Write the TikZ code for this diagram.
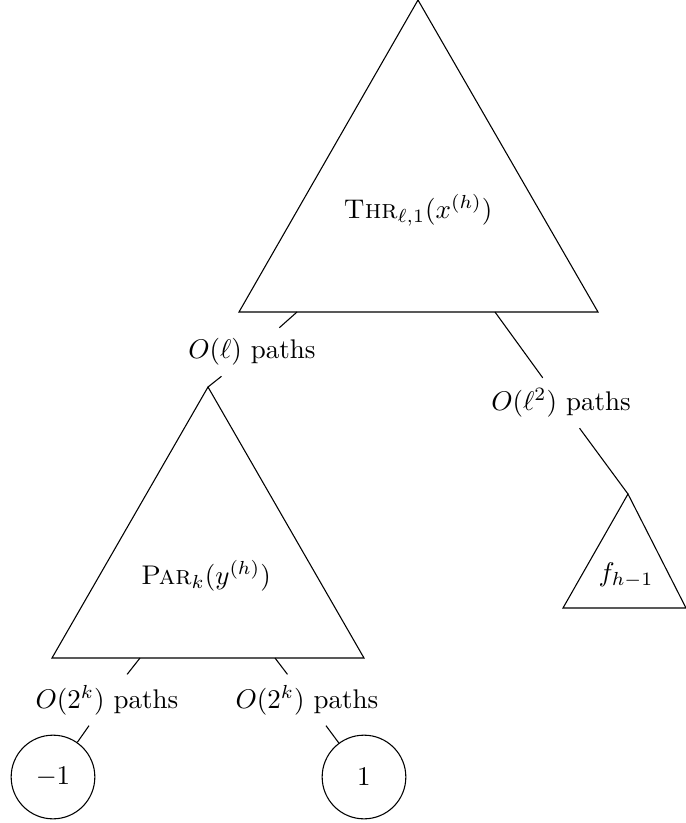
\documentclass[tikz,border=0pt]{standalone}
\begin{document}
\begin{tikzpicture}[x=0.3704pt, y=-0.3704pt,
  tri/.style={draw, line join=miter},
  lab/.style={inner sep=3.8pt},
  leaf/.style={circle, draw, minimum size=31pt, inner sep=0pt},
  conn/.style={draw}]
\useasboundingbox (0,0) rectangle (686,823);
% triangles
\coordinate (thrtop) at (418,0);
\coordinate (thrl) at (239,312);
\coordinate (thrr) at (598,312);
\draw[tri] (thrtop) -- (thrl) -- (thrr) -- cycle;
\node (thr) at (418,210) {$\textsc{Thr}_{\ell,1}(x^{(h)})$};
\coordinate (partop) at (208,387);
\coordinate (parl) at (52,658);
\coordinate (parr) at (364,658);
\draw[tri] (partop) -- (parl) -- (parr) -- cycle;
\node (par) at (206,576) {$\textsc{Par}_k(y^{(h)})$};
\coordinate (ftop) at (628,494);
\coordinate (fl) at (563,608);
\coordinate (fr) at (686,608);
\draw[tri] (ftop) -- (fl) -- (fr) -- cycle;
\node (f) at (626,575) {$f_{h-1}$};
% edge start points on bases
\coordinate (s1) at (297,312);
\coordinate (s2) at (495,312);
\coordinate (s3) at (140,658);
\coordinate (s4) at (275,658);
% labels
\node[lab] (l1) at (252,352) {$O(\ell)$ paths};
\node[lab] (l2) at (561,403) {$O(\ell^2)$ paths};
\node[lab] (l3) at (107,700) {$O(2^k)$ paths};
\node[lab] (l4) at (307,700) {$O(2^k)$ paths};
% leaves
\node[leaf] (m1) at (53,777) {$-1$};
\node[leaf] (p1) at (364,777) {$1$};
% connectors
\draw[conn] (s1) -- (l1);
\draw[conn] (l1) -- (partop);
\draw[conn] (s2) -- (l2);
\draw[conn] (l2) -- (ftop);
\draw[conn] (s3) -- (l3);
\draw[conn] (l3) -- (m1);
\draw[conn] (s4) -- (l4);
\draw[conn] (l4) -- (p1);
\end{tikzpicture}
\end{document}
